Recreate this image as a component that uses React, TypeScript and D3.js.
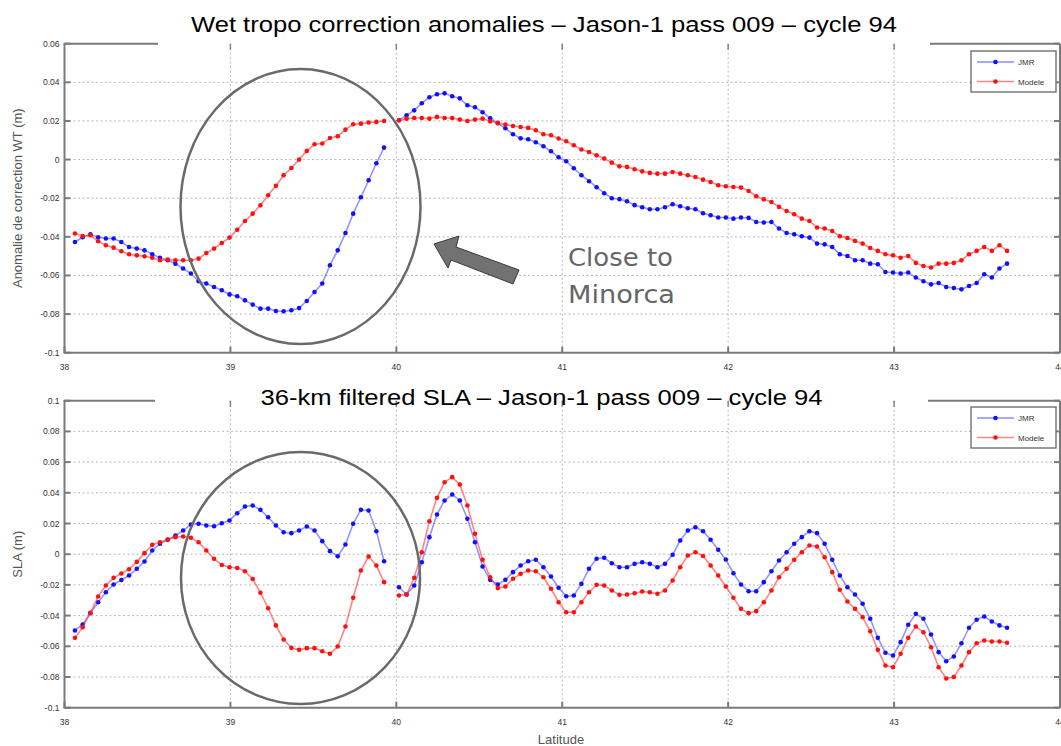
import React from "react";
import * as d3 from "d3";

// ---------- DATA ----------
const latTicks = [38, 39, 40, 41, 42, 43, 44];
const latTickLabels = ["38", "39", "40", "41", "42", "43", "44"];
const wtTicks = [0.06, 0.04, 0.02, 0, -0.02, -0.04, -0.06, -0.08, -0.1];
const wtTickLabels = ["0.06", "0.04", "0.02", "0", "-0.02", "-0.04", "-0.06", "-0.08", "-0.1"];
const slaTicks = [0.1, 0.08, 0.06, 0.04, 0.02, 0, -0.02, -0.04, -0.06, -0.08, -0.1];
const slaTickLabels = ["0.1", "0.08", "0.06", "0.04", "0.02", "0", "-0.02", "-0.04", "-0.06", "-0.08", "-0.1"];

// along-track sampling (latitude of first point, latitude step) of the two track segments
const seg1Start = 38.063;
const seg1Step = 0.04658;
const seg2Start = 40.016;
const seg2Step = 0.04581;

const seriesNames = ["JMR", "Modele"];

// Wet tropo correction anomalies (m)
const wtJmrSeg1 = [-0.0427, -0.0402, -0.0387, -0.0402, -0.0409, -0.0409, -0.0427, -0.0453, -0.0461, -0.047, -0.049, -0.0508, -0.0521, -0.0539, -0.0564, -0.059, -0.063, -0.0642, -0.066, -0.0677, -0.0698, -0.0708, -0.0729, -0.0751, -0.0772, -0.0772, -0.0784, -0.0786, -0.078, -0.0769, -0.0732, -0.0686, -0.0642, -0.0547, -0.047, -0.038, -0.028, -0.0195, -0.0107, -0.0019, 0.0062];
const wtJmrSeg2 = [0.0204, 0.0229, 0.0255, 0.0292, 0.0323, 0.0338, 0.0343, 0.0328, 0.0317, 0.0281, 0.0271, 0.0245, 0.0214, 0.0188, 0.0162, 0.0131, 0.011, 0.0105, 0.009, 0.0069, 0.0043, 0.0012, -0.0009, -0.0045, -0.0081, -0.0112, -0.0143, -0.0174, -0.02, -0.0205, -0.0216, -0.0236, -0.0247, -0.0257, -0.0257, -0.0247, -0.0231, -0.0242, -0.0252, -0.0257, -0.0278, -0.0288, -0.03, -0.03, -0.0306, -0.03, -0.0302, -0.0323, -0.0326, -0.0323, -0.0357, -0.038, -0.0387, -0.0397, -0.0404, -0.0435, -0.0439, -0.0453, -0.049, -0.0499, -0.0521, -0.0521, -0.0539, -0.0542, -0.0582, -0.0585, -0.059, -0.0585, -0.0611, -0.063, -0.0646, -0.0639, -0.066, -0.0665, -0.0672, -0.0655, -0.0639, -0.0594, -0.0611, -0.0564, -0.0539];
const wtModSeg1 = [-0.0383, -0.0396, -0.0392, -0.0423, -0.0444, -0.0456, -0.0475, -0.049, -0.0496, -0.0501, -0.0508, -0.0521, -0.0518, -0.0521, -0.0521, -0.0521, -0.0513, -0.0484, -0.0461, -0.0432, -0.0404, -0.0363, -0.0318, -0.028, -0.0237, -0.0185, -0.0136, -0.0081, -0.0044, 0.0, 0.0045, 0.0079, 0.0083, 0.0112, 0.0121, 0.0155, 0.0183, 0.0186, 0.0192, 0.0195, 0.02];
const wtModSeg2 = [0.0204, 0.0212, 0.0215, 0.0215, 0.0212, 0.0221, 0.0215, 0.0215, 0.0207, 0.02, 0.0207, 0.0212, 0.0198, 0.019, 0.0181, 0.0174, 0.0169, 0.0164, 0.0152, 0.0131, 0.0126, 0.0109, 0.0095, 0.0074, 0.0052, 0.0039, 0.0022, 0.0005, -0.0016, -0.0035, -0.0038, -0.005, -0.0061, -0.0069, -0.0073, -0.0073, -0.0064, -0.0073, -0.0081, -0.009, -0.0104, -0.0116, -0.0133, -0.0138, -0.0142, -0.0145, -0.0163, -0.019, -0.0206, -0.022, -0.0245, -0.0266, -0.0283, -0.0306, -0.0318, -0.0352, -0.0357, -0.037, -0.0397, -0.0406, -0.0421, -0.0435, -0.0458, -0.0473, -0.049, -0.0496, -0.0508, -0.0499, -0.0535, -0.0551, -0.0559, -0.0539, -0.0539, -0.0535, -0.0521, -0.049, -0.0473, -0.0453, -0.0473, -0.0444, -0.0473];

// 36-km filtered SLA (m)
const slaJmrSeg1 = [-0.0497, -0.0458, -0.0384, -0.0313, -0.0248, -0.0197, -0.0168, -0.0139, -0.0095, -0.0048, 0.0024, 0.0068, 0.0094, 0.0122, 0.0154, 0.0193, 0.0198, 0.0187, 0.0182, 0.0202, 0.022, 0.0267, 0.0311, 0.0317, 0.0289, 0.0241, 0.0187, 0.0143, 0.0137, 0.0154, 0.018, 0.0154, 0.0085, 0.002, -0.0013, 0.0063, 0.0198, 0.0289, 0.0285, 0.015, -0.0046];
const slaJmrSeg2 = [-0.0215, -0.0263, -0.0204, -0.0052, 0.0111, 0.0259, 0.035, 0.0389, 0.035, 0.0231, 0.0078, -0.008, -0.0167, -0.0197, -0.0167, -0.0117, -0.0074, -0.0046, -0.0036, -0.0085, -0.0145, -0.0219, -0.0274, -0.0269, -0.0193, -0.0095, -0.003, -0.0023, -0.0059, -0.0085, -0.0085, -0.0063, -0.0052, -0.0063, -0.0085, -0.0063, -0.0004, 0.0089, 0.0154, 0.0176, 0.015, 0.0094, 0.0029, -0.0035, -0.0124, -0.0197, -0.0241, -0.0241, -0.0182, -0.0111, -0.0041, 0.0013, 0.0068, 0.0111, 0.015, 0.0137, 0.0068, -0.0036, -0.0139, -0.0215, -0.0263, -0.0323, -0.0421, -0.0545, -0.0642, -0.066, -0.0573, -0.046, -0.0388, -0.0421, -0.0523, -0.0638, -0.0697, -0.0666, -0.058, -0.0479, -0.0427, -0.0406, -0.0438, -0.0464, -0.0479];
const slaModSeg1 = [-0.0545, -0.0476, -0.0382, -0.0276, -0.0204, -0.0154, -0.0126, -0.0098, -0.005, 0.0007, 0.0061, 0.0078, 0.0096, 0.0111, 0.0115, 0.0107, 0.0078, 0.0024, -0.003, -0.007, -0.0085, -0.009, -0.0111, -0.0162, -0.0251, -0.0352, -0.0464, -0.0556, -0.061, -0.0623, -0.0612, -0.0612, -0.0632, -0.0649, -0.0601, -0.0471, -0.0284, -0.0106, -0.0015, -0.0074, -0.0182];
const slaModSeg2 = [-0.0269, -0.0263, -0.0154, 0.0013, 0.0215, 0.0367, 0.0469, 0.0502, 0.0454, 0.0317, 0.0133, -0.0036, -0.015, -0.0221, -0.021, -0.016, -0.0128, -0.0106, -0.0111, -0.015, -0.0225, -0.0313, -0.0378, -0.0378, -0.0313, -0.0248, -0.0199, -0.0204, -0.0236, -0.0264, -0.0263, -0.0254, -0.0243, -0.0248, -0.0258, -0.0236, -0.0171, -0.0085, -0.0008, 0.0013, -0.0012, -0.0074, -0.0139, -0.021, -0.0284, -0.0356, -0.0384, -0.0371, -0.0313, -0.0236, -0.015, -0.0095, -0.0036, 0.0013, 0.0057, 0.005, -0.002, -0.0117, -0.0232, -0.0308, -0.0356, -0.041, -0.0502, -0.0623, -0.0725, -0.0736, -0.0649, -0.0545, -0.0471, -0.0508, -0.0606, -0.0736, -0.081, -0.08, -0.0725, -0.0638, -0.058, -0.0562, -0.0569, -0.0569, -0.0577];

// ---------- STYLE ----------
const W = 1061;
const H = 746;
const AXIS = "#7a7a7a";
const GRID = "#b8b8b8";
const TXT = "#333";
const FONT = "'Liberation Sans', Arial, sans-serif";
const BLUE_LINE = "rgba(60,60,255,0.55)";
const BLUE_PT = "#1010ff";
const RED_LINE = "rgba(255,50,50,0.6)";
const RED_PT = "#ff1010";

type Pt = [number, number];
const toPts = (start: number, step: number, vals: number[]): Pt[] =>
  vals.map((v, i) => [start + i * step, v] as Pt);

interface PanelProps {
  top: number;
  bottom: number;
  yDomain: [number, number];
  ticks: number[];
  tickLabels: string[];
  title: string;
  titleY: number;
  titleLen: number;
  titleGap: [number, number];
  yLabel: string;
  jmr: Pt[][];
  mod: Pt[][];
  legendY: number;
}

const x = d3.scaleLinear().domain([38, 44]).range([64.5, 1060]);

function Series({ segs, y, line, pt }: { segs: Pt[][]; y: d3.ScaleLinear<number, number>; line: string; pt: string }) {
  const gen = d3
    .line<Pt>()
    .x((d) => x(d[0]))
    .y((d) => y(d[1]));
  return (
    <g>
      {segs.map((s, i) => (
        <path key={"l" + i} d={gen(s) || ""} fill="none" stroke={line} strokeWidth={1.6} />
      ))}
      {segs.map((s, i) =>
        s.map((d, j) => <circle key={"p" + i + "-" + j} cx={x(d[0])} cy={y(d[1])} r={2.3} fill={pt} />)
      )}
    </g>
  );
}

function Legend({ top }: { top: number }) {
  const left = 971;
  const w = 85;
  const h = 41;
  const rows = [
    { name: seriesNames[0], line: "rgba(90,90,255,0.7)", pt: BLUE_PT },
    { name: seriesNames[1], line: "rgba(255,80,80,0.7)", pt: RED_PT },
  ];
  return (
    <g>
      <rect x={left} y={top} width={w} height={h} fill="#fff" stroke="#707070" strokeWidth={1.4} />
      {rows.map((r, i) => {
        const cy = top + 11 + i * 19.5;
        return (
          <g key={r.name}>
            <line x1={left + 6} x2={left + 43} y1={cy} y2={cy} stroke={r.line} strokeWidth={1.6} />
            <circle cx={left + 24.5} cy={cy} r={2.3} fill={r.pt} />
            <text x={left + 47} y={cy + 3} fontSize={8} fill={TXT} fontFamily={FONT}>
              {r.name}
            </text>
          </g>
        );
      })}
    </g>
  );
}

function Panel(p: PanelProps) {
  const y = d3.scaleLinear().domain(p.yDomain).range([p.bottom, p.top]);
  const L = x(38);
  const R = x(44);
  return (
    <g>
      {/* grid */}
      {p.ticks
        .filter((t) => t !== p.yDomain[0] && t !== p.yDomain[1])
        .map((t) => (
          <line key={"gy" + t} x1={L} x2={R} y1={y(t)} y2={y(t)} stroke={GRID} strokeWidth={1} strokeDasharray="2,2.5" />
        ))}
      {latTicks
        .filter((t) => t !== 38 && t !== 44)
        .map((t) => (
          <line key={"gx" + t} x1={x(t)} x2={x(t)} y1={p.top} y2={p.bottom} stroke={GRID} strokeWidth={1} strokeDasharray="2,2.5" />
        ))}
      {/* frame */}
      <line x1={L} x2={L} y1={p.top} y2={p.bottom} stroke={AXIS} strokeWidth={2} />
      <line x1={R} x2={R} y1={p.top} y2={p.bottom} stroke={AXIS} strokeWidth={2} />
      <line x1={L - 1} x2={R} y1={p.bottom} y2={p.bottom} stroke={AXIS} strokeWidth={2} />
      <line x1={L - 1} x2={p.titleGap[0]} y1={p.top} y2={p.top} stroke={AXIS} strokeWidth={2} />
      <line x1={p.titleGap[1]} x2={R} y1={p.top} y2={p.top} stroke={AXIS} strokeWidth={2} />
      {/* ticks */}
      {p.ticks.map((t, i) => (
        <g key={"ty" + t}>
          <line x1={L} x2={L + 6} y1={y(t)} y2={y(t)} stroke={AXIS} strokeWidth={2} />
          <line x1={R - 6} x2={R} y1={y(t)} y2={y(t)} stroke={AXIS} strokeWidth={2} />
          <text x={L - 5} y={y(t) + 3} textAnchor="end" fontSize={8.5} fill={TXT} fontFamily={FONT}>
            {p.tickLabels[i]}
          </text>
        </g>
      ))}
      {latTicks.map((t, i) => (
        <g key={"tx" + t}>
          <line x1={x(t)} x2={x(t)} y1={p.bottom} y2={p.bottom - 6} stroke={AXIS} strokeWidth={2} />
          <line x1={x(t)} x2={x(t)} y1={p.top} y2={p.top + 6} stroke={AXIS} strokeWidth={1.5} opacity={t === 38 || t === 44 ? 0 : 0.9} />
          <text x={x(t)} y={p.bottom + 17} textAnchor="middle" fontSize={8.5} fill={TXT} fontFamily={FONT}>
            {latTickLabels[i]}
          </text>
        </g>
      ))}
      {/* data */}
      <Series segs={p.jmr} y={y} line={BLUE_LINE} pt={BLUE_PT} />
      <Series segs={p.mod} y={y} line={RED_LINE} pt={RED_PT} />
      {/* title */}
      <text
        x={(p.titleGap[0] + p.titleGap[1]) / 2}
        y={p.titleY}
        textAnchor="middle"
        fontSize={22}
        fill="#000"
        fontFamily={FONT}
        textLength={p.titleLen}
        lengthAdjust="spacingAndGlyphs"
      >
        {p.title}
      </text>
      {/* y label */}
      <text
        transform={`translate(22,${(p.top + p.bottom) / 2}) rotate(-90)`}
        textAnchor="middle"
        fontSize={13}
        fill="#555"
        fontFamily={FONT}
      >
        {p.yLabel}
      </text>
      <Legend top={p.legendY} />
    </g>
  );
}

export default function App() {
  const wtJ = [toPts(seg1Start, seg1Step, wtJmrSeg1), toPts(seg2Start, seg2Step, wtJmrSeg2)];
  const wtM = [toPts(seg1Start, seg1Step, wtModSeg1), toPts(seg2Start, seg2Step, wtModSeg2)];
  const slJ = [toPts(seg1Start, seg1Step, slaJmrSeg1), toPts(seg2Start, seg2Step, slaJmrSeg2)];
  const slM = [toPts(seg1Start, seg1Step, slaModSeg1), toPts(seg2Start, seg2Step, slaModSeg2)];

  return (
    <svg
      width={W}
      height={H}
      viewBox={`0 0 ${W} ${H}`}
      style={{ position: "absolute", left: 0, top: 0, background: "#fff", display: "block" }}
    >
      <rect x={0} y={0} width={W} height={H} fill="#fff" />
      <Panel
        top={43.7}
        bottom={352.7}
        yDomain={[-0.1, 0.06]}
        ticks={wtTicks}
        tickLabels={wtTickLabels}
        title="Wet tropo correction anomalies – Jason-1 pass 009 – cycle 94"
        titleY={32}
        titleLen={706}
        titleGap={[158, 930]}
        yLabel="Anomalie de correction WT (m)"
        jmr={wtJ}
        mod={wtM}
        legendY={51}
      />
      <Panel
        top={400.7}
        bottom={707.7}
        yDomain={[-0.1, 0.1]}
        ticks={slaTicks}
        tickLabels={slaTickLabels}
        title="36-km filtered SLA – Jason-1 pass 009 – cycle 94"
        titleY={405}
        titleLen={562}
        titleGap={[155, 928]}
        yLabel="SLA (m)"
        jmr={slJ}
        mod={slM}
        legendY={407}
      />
      {/* x label */}
      <text x={561} y={744} textAnchor="middle" fontSize={13} fill="#555" fontFamily={FONT}>
        Latitude
      </text>
      {/* annotations */}
      <ellipse cx={300.5} cy={206.5} rx={120} ry={137.5} fill="none" stroke="#6a6a6a" strokeWidth={2.5} />
      <ellipse cx={300.5} cy={578} rx={119.5} ry={126} fill="none" stroke="#6a6a6a" strokeWidth={2.5} />
      <polygon
        points="434,244 459,236 456,247 519,270 513,284 451,260 448,268"
        fill="#727272"
        stroke="#3a3a3a"
        strokeWidth={1}
        strokeLinejoin="round"
      />
      <text x={568} y={266} fontSize={25} fill="#666" fontFamily="'DejaVu Sans', sans-serif" textLength={105} lengthAdjust="spacingAndGlyphs">
        Close to
      </text>
      <text x={568} y={303} fontSize={25} fill="#666" fontFamily="'DejaVu Sans', sans-serif" textLength={107} lengthAdjust="spacingAndGlyphs">
        Minorca
      </text>
    </svg>
  );
}
